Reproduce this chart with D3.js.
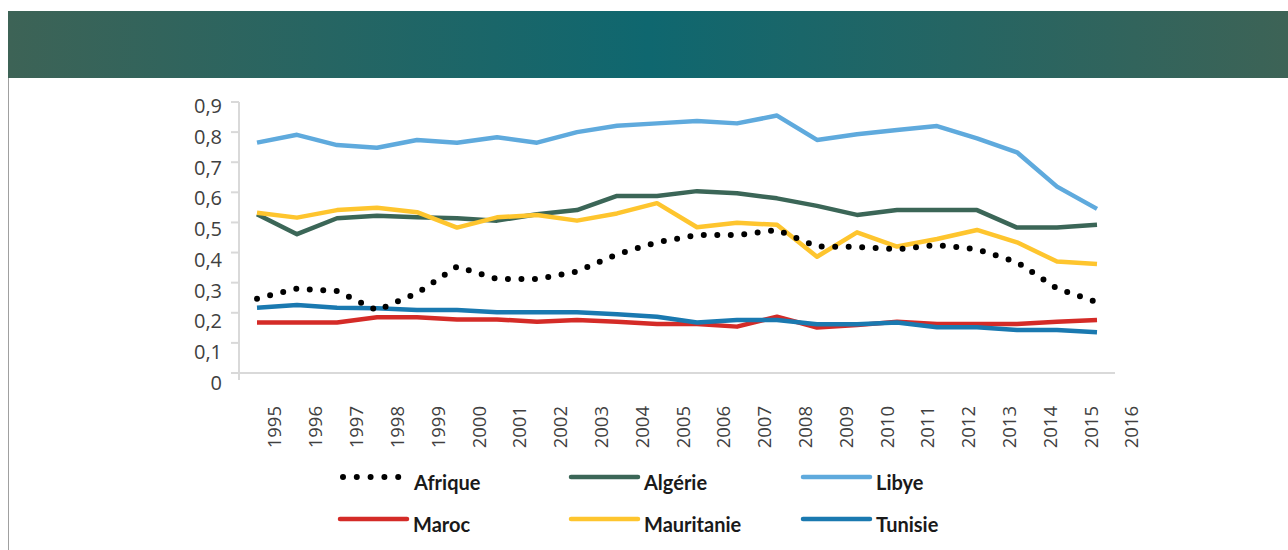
<!DOCTYPE html>
<html>
<head>
<meta charset="utf-8">
<script src="https://cdn.jsdelivr.net/npm/d3@7"></script>
<style>
body { margin: 0; background: #fff; }
.tick-label { font-family: "Open Sans", sans-serif; fill: #404040; }
.legend text { font-family: Lato, "Open Sans", sans-serif; font-weight: bold; font-size: 20px; fill: #1a1a1a; }
</style>
</head>
<body>
<div id="chart"></div>
<script>
var w = 1288, h = 550;

var years = d3.range(1995, 2017);
var yearLabels = years.map(String);
var yTicks = [0, 0.1, 0.2, 0.3, 0.4, 0.5, 0.6, 0.7, 0.8, 0.9];

var afrique    = [0.247,0.280,0.272,0.208,0.265,0.353,0.312,0.312,0.337,0.394,0.434,0.458,0.458,0.475,0.420,0.419,0.411,0.425,0.411,0.368,0.281,0.235];
var algerie    = [0.527,0.461,0.514,0.522,0.517,0.514,0.506,0.527,0.541,0.588,0.588,0.604,0.597,0.580,0.555,0.525,0.541,0.541,0.541,0.483,0.483,0.492];
var libye      = [0.765,0.791,0.757,0.748,0.774,0.765,0.783,0.765,0.800,0.821,0.829,0.837,0.829,0.855,0.774,0.793,0.807,0.820,0.779,0.733,0.619,0.545];
var maroc      = [0.168,0.168,0.168,0.185,0.185,0.178,0.178,0.170,0.176,0.170,0.163,0.163,0.154,0.187,0.151,0.159,0.170,0.163,0.163,0.163,0.170,0.176];
var mauritanie = [0.532,0.516,0.541,0.549,0.534,0.483,0.517,0.525,0.506,0.530,0.564,0.484,0.499,0.492,0.386,0.467,0.420,0.445,0.475,0.434,0.370,0.362];
var tunisie    = [0.217,0.226,0.217,0.215,0.209,0.209,0.202,0.202,0.202,0.195,0.187,0.168,0.176,0.176,0.162,0.162,0.168,0.152,0.152,0.143,0.143,0.135];

var series = [
  {name: "Algérie", values: algerie, color: "#3b6657"},
  {name: "Libye", values: libye, color: "#5faadd"},
  {name: "Maroc", values: maroc, color: "#d42b27"},
  {name: "Mauritanie", values: mauritanie, color: "#fec52e"},
  {name: "Tunisie", values: tunisie, color: "#1a79b0"},
  {name: "Afrique", values: afrique, color: "#000", dotted: true}
];

var svg = d3.select("#chart").append("svg")
    .attr("width", w)
    .attr("height", h);

// banner
var grad = svg.append("defs").append("linearGradient")
    .attr("id", "band").attr("x1", "0%").attr("x2", "100%");
grad.append("stop").attr("offset", "0%").attr("stop-color", "#3d6356");
grad.append("stop").attr("offset", "50%").attr("stop-color", "#0f676f");
grad.append("stop").attr("offset", "100%").attr("stop-color", "#3d6356");

svg.append("rect")
    .attr("x", 8).attr("y", 11)
    .attr("width", w - 8).attr("height", 67)
    .attr("fill", "url(#band)");

svg.append("line")
    .attr("x1", 8.5).attr("x2", 8.5)
    .attr("y1", 78).attr("y2", h)
    .attr("stroke", "#a0a0a0").attr("stroke-width", 1);

// scales
var x = d3.scalePoint().domain(years).range([257, 1097]);
var xLab = d3.scalePoint().domain(yearLabels).range([275, 1132]);
var y = d3.scaleLinear().domain([0, 0.9]).range([373, 102]);
var yLab = d3.scaleLinear().domain([0, 0.9]).range([383, 106]);

var fmt = function(d) { return d === 0 ? "0" : d3.format(".1f")(d).replace(".", ","); };

// axes
var axisColor = "#d9d9d9";
svg.append("line")
    .attr("x1", 239).attr("x2", 239)
    .attr("y1", y(0.9)).attr("y2", y(0) + 7)
    .attr("stroke", axisColor).attr("stroke-width", 2);
svg.append("line")
    .attr("x1", 239).attr("x2", 1115)
    .attr("y1", y(0)).attr("y2", y(0))
    .attr("stroke", axisColor).attr("stroke-width", 2);

svg.append("g").selectAll("line")
    .data(yTicks)
  .enter().append("line")
    .attr("x1", 231).attr("x2", 239)
    .attr("y1", function(d) { return y(d); })
    .attr("y2", function(d) { return y(d); })
    .attr("stroke", axisColor).attr("stroke-width", 2);

svg.append("g").selectAll("text")
    .data(yTicks)
  .enter().append("text")
    .attr("class", "tick-label")
    .attr("x", 222)
    .attr("y", function(d) { return yLab(d); })
    .attr("dy", "0.35em")
    .attr("text-anchor", "end")
    .style("font-size", "20px")
    .text(fmt);

svg.append("g").selectAll("text")
    .data(yearLabels)
  .enter().append("text")
    .attr("class", "tick-label")
    .attr("transform", function(d) { return "translate(" + xLab(d) + ",406) rotate(-90)"; })
    .attr("dy", "0.35em")
    .attr("text-anchor", "end")
    .style("font-size", "18.5px")
    .text(function(d) { return d; });

// lines
var line = d3.line()
    .x(function(d, i) { return x(years[i]); })
    .y(function(d) { return y(d); });

svg.append("g").selectAll("path")
    .data(series)
  .enter().append("path")
    .attr("d", function(d) { return line(d.values); })
    .attr("fill", "none")
    .attr("stroke", function(d) { return d.color; })
    .attr("stroke-width", function(d) { return d.dotted ? 6 : 4.5; })
    .attr("stroke-linecap", function(d) { return d.dotted ? "round" : "butt"; })
    .attr("stroke-linejoin", "round")
    .attr("stroke-dasharray", function(d) { return d.dotted ? "0 13.5" : null; });

// legend
var legendItems = [
  {name: "Afrique", color: "#000", dotted: true, lx: 343, ly: 477},
  {name: "Algérie", color: "#3b6657", lx: 571, ly: 477},
  {name: "Libye", color: "#5faadd", lx: 803, ly: 477},
  {name: "Maroc", color: "#d42b27", lx: 340, ly: 519},
  {name: "Mauritanie", color: "#fec52e", lx: 571, ly: 519},
  {name: "Tunisie", color: "#1a79b0", lx: 803, ly: 519}
];

var leg = svg.append("g").attr("class", "legend").selectAll("g")
    .data(legendItems)
  .enter().append("g");

leg.append("line")
    .attr("x1", function(d) { return d.lx; })
    .attr("x2", function(d) { return d.dotted ? d.lx + 56 : d.lx + 67; })
    .attr("y1", function(d) { return d.ly; })
    .attr("y2", function(d) { return d.ly; })
    .attr("stroke", function(d) { return d.color; })
    .attr("stroke-width", function(d) { return d.dotted ? 6 : 4.5; })
    .attr("stroke-linecap", "round")
    .attr("stroke-dasharray", function(d) { return d.dotted ? "0 13.8" : null; });

leg.append("text")
    .attr("x", function(d) { return d.dotted ? 414 : d.lx + 73; })
    .attr("y", function(d) { return d.ly + 13; })
    .text(function(d) { return d.name; });
</script>
</body>
</html>
